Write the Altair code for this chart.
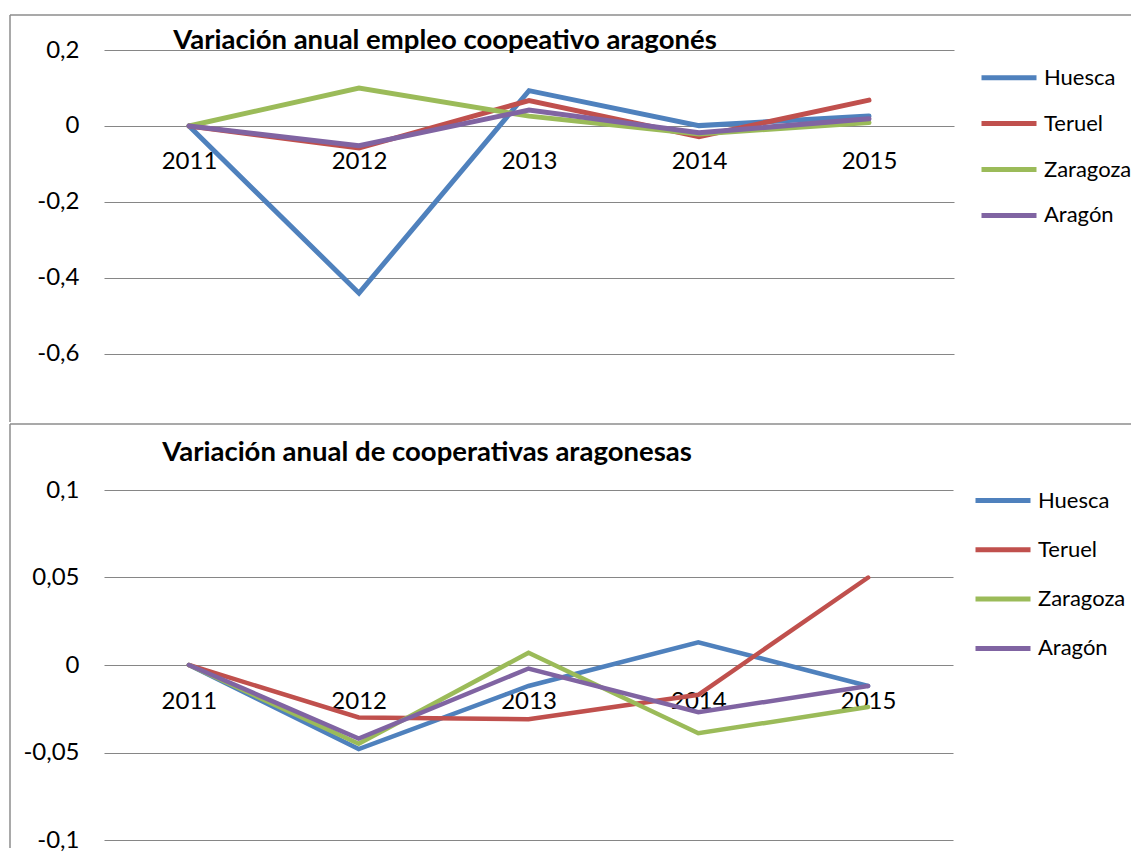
import altair as alt
import pandas as pd

# ---------------- data ----------------
years = ["2011", "2012", "2013", "2014", "2015"]
regions = ["Huesca", "Teruel", "Zaragoza", "Aragón"]
colors = ["#4F81BD", "#C0504D", "#9BBB59", "#8064A2"]

# Variación anual empleo cooperativo
emp_huesca = [0.0, -0.44, 0.093, 0.001, 0.026]
emp_teruel = [0.0, -0.058, 0.067, -0.028, 0.068]
emp_zaragoza = [0.0, 0.100, 0.026, -0.021, 0.009]
emp_aragon = [0.0, -0.052, 0.042, -0.018, 0.019]

# Variación anual de cooperativas
coop_huesca = [0.0, -0.048, -0.012, 0.013, -0.012]
coop_teruel = [0.0, -0.030, -0.031, -0.017, 0.050]
coop_zaragoza = [0.0, -0.045, 0.007, -0.039, -0.024]
coop_aragon = [0.0, -0.042, -0.002, -0.027, -0.012]

emp_ticks = [-0.6, -0.4, -0.2, 0.0, 0.2]
coop_ticks = [-0.1, -0.05, 0.0, 0.05, 0.1]

title_emp = "Variación anual empleo coopeativo aragonés"
title_coop = "Variación anual de cooperativas aragonesas"

# ---------------- styling ----------------
FONT = "Lato"
GRID = "#868686"
FRAME = "#8c8c8c"
LABEL_EXPR = "replace(replace(format(datum.value, '~g'), '.', ','), '\u2212', '-')"


def to_long(series_list):
    rows = []
    for name, vals in zip(regions, series_list):
        for y, v in zip(years, vals):
            rows.append({"year": y, "region": name, "value": v})
    return pd.DataFrame(rows)


def panel(df, ticks, domain, width, height, zero_offset, title, title_x, title_y,
          leg_x, leg_y, row_pad, stroke_w, frame_top, frame_bottom, label_pad):
    lines = alt.Chart(df).mark_line(strokeWidth=stroke_w, strokeCap="round").encode(
        x=alt.X("year:O", sort=years, scale=alt.Scale(type="point", padding=0.5),
                axis=alt.Axis(title=None, labelAngle=0, domain=False, ticks=False, grid=False,
                              offset=zero_offset, labelPadding=label_pad, labelFontSize=24,
                              labelFont=FONT, labelColor="black")),
        y=alt.Y("value:Q", scale=alt.Scale(domain=domain, nice=False, zero=False),
                axis=alt.Axis(title=None, values=ticks, labelExpr=LABEL_EXPR, domain=False,
                              ticks=False, grid=True, gridColor=GRID, gridWidth=1.2,
                              labelPadding=25, labelFontSize=24, labelFont=FONT,
                              labelColor="black")),
        color=alt.Color("region:N", sort=regions,
                        scale=alt.Scale(domain=regions, range=colors),
                        legend=alt.Legend(title=None, orient="none", legendX=leg_x, legendY=leg_y,
                                          symbolType="stroke", symbolSize=3025,
                                          symbolStrokeWidth=5, labelFontSize=22,
                                          labelFont=FONT, labelColor="black", labelOffset=5,
                                          rowPadding=row_pad, padding=0)),
    )
    head = pd.DataFrame({"title": [title]})
    title_mark = alt.Chart(head).mark_text(
        font=FONT, fontSize=27.5, fontWeight="bold", color="black",
        align="center", baseline="alphabetic").encode(
        text="title:N", x=alt.value(title_x), y=alt.value(title_y))
    top_line = alt.Chart(head).mark_rule(color=FRAME, strokeWidth=1.5).encode(
        x=alt.value(-94), x2=alt.value(1027), y=alt.value(frame_top))
    left_line = alt.Chart(head).mark_rule(color=FRAME, strokeWidth=1.5).encode(
        x=alt.value(-94), y=alt.value(frame_top), y2=alt.value(frame_bottom))
    return alt.layer(top_line, left_line, title_mark, lines).properties(
        width=width, height=height,
        view=alt.ViewBackground(stroke="transparent", strokeWidth=0, strokeOpacity=0))


top = panel(to_long([emp_huesca, emp_teruel, emp_zaragoza, emp_aragon]), emp_ticks,
            [-0.779, 0.2], 850, 372, -296, title_emp, 341, -1,
            875, -2.3, 4.9, 5, -35, 372, 23.5)
bottom = panel(to_long([coop_huesca, coop_teruel, coop_zaragoza, coop_aragon]), coop_ticks,
               [-0.1, 0.1], 849, 350, -175, title_coop, 323, -29,
               869, -19.5, 8.3, 4.5, -66, 358, 24)

chart = alt.vconcat(top, bottom, spacing=0).resolve_scale(
    x="independent", y="independent", color="independent"
).resolve_legend(color="independent").properties(
    padding={"left": 1, "top": 6, "right": 0, "bottom": 0}
).configure_view(stroke="transparent", strokeWidth=0).configure(font=FONT)

chart.save("out.html", embed_options={"renderer": "svg", "actions": False})
